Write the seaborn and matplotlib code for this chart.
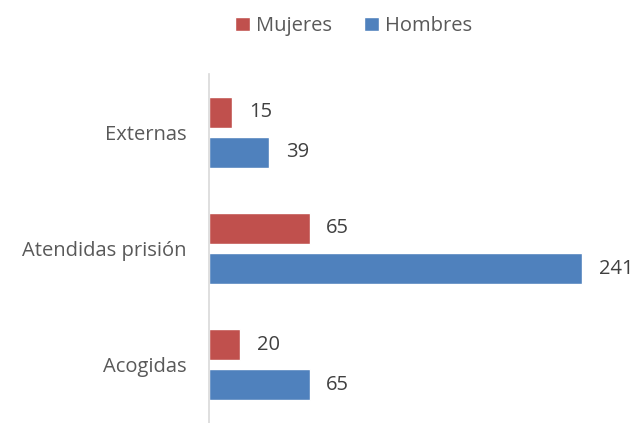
import seaborn as sns
import matplotlib.pyplot as plt
import pandas as pd

# data
categorias = ["Externas", "Atendidas prisión", "Acogidas"]
mujeres = [15, 65, 20]
hombres = [39, 241, 65]
series = ["Mujeres", "Hombres"]
colores = ["#C0504D", "#4F81BD"]

df = pd.DataFrame({
    "categoria": categorias * 2,
    "valor": mujeres + hombres,
    "sexo": [series[0]] * len(categorias) + [series[1]] * len(categorias),
})

sns.set_style("white")
plt.rcParams["font.family"] = ["Open Sans", "DejaVu Sans"]

fig = plt.figure(figsize=(6.34, 4.23), dpi=100)
ax = fig.add_axes([0.3297, 0.0, 0.61, 0.825])

sns.barplot(data=df, y="categoria", x="valor", hue="sexo", order=categorias,
            hue_order=series, palette=colores, orient="h", width=0.69, gap=0.23,
            saturation=1, ax=ax)

for cont in ax.containers:
    ax.bar_label(cont, padding=12, fontsize=14.5, color="#404040")

ax.set_xlim(0, 250)
ax.set_xlabel("")
ax.set_ylabel("")
ax.set_xticks([])
ax.tick_params(axis="y", length=0, pad=16, labelsize=14.5, labelcolor="#595959")
for s in ["top", "right", "bottom"]:
    ax.spines[s].set_visible(False)
ax.spines["left"].set_color("#D9D9D9")
ax.spines["left"].set_linewidth(1.2)

ax.legend(loc="upper center", bbox_to_anchor=(0.558, 1.005),
          bbox_transform=fig.transFigure, ncol=2, frameon=False, fontsize=14.5,
          handlelength=0.75, handleheight=0.75, handletextpad=0.3, columnspacing=1.6,
          labelcolor="#595959")

fig.savefig("out.png", dpi=100)
